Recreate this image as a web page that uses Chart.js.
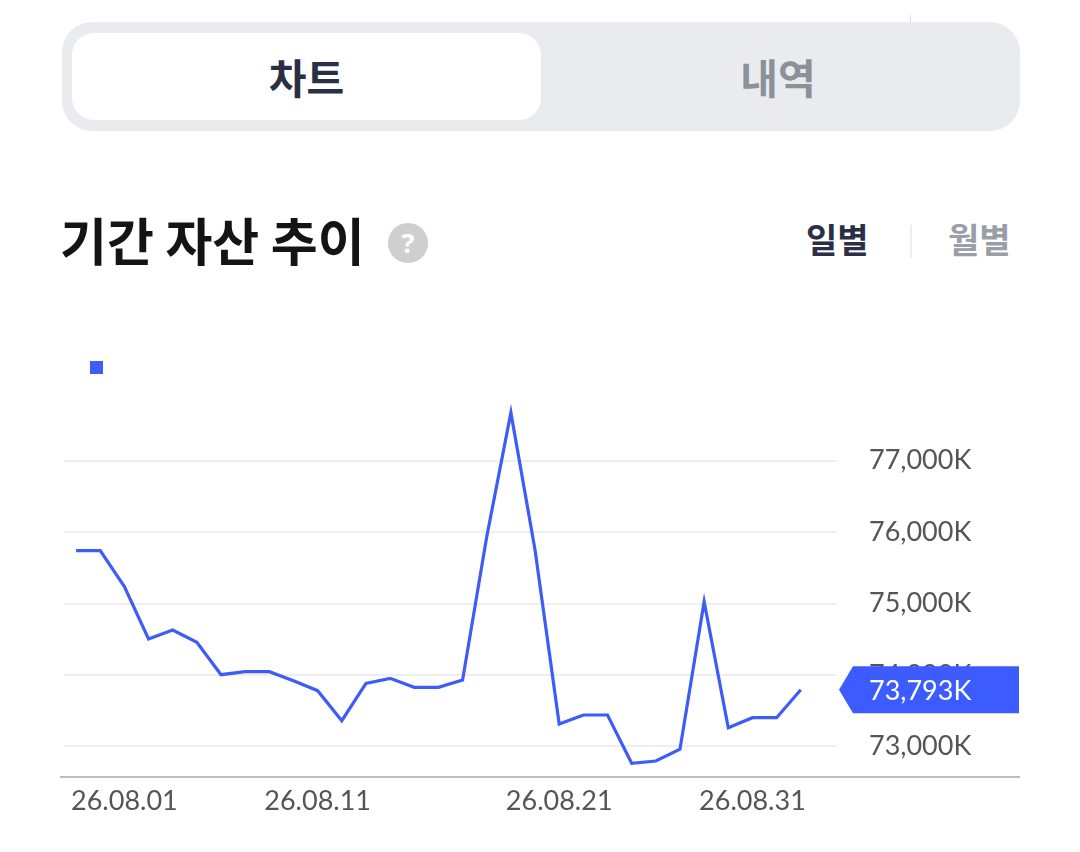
<!DOCTYPE html>
<html>
<head>
<meta charset="utf-8">
<script src="https://cdn.jsdelivr.net/npm/chart.js@4"></script>
<style>
  html, body { margin: 0; padding: 0; background: #fff; }
  body { width: 1080px; height: 852px; position: relative; overflow: hidden;
         font-family: "Noto Sans CJK KR", "Noto Sans", sans-serif; }
  .abs { position: absolute; }
  .tabs { left: 62px; top: 22px; width: 958px; height: 109px; background: #e9ebef; border-radius: 30px; }
  .pill { left: 72px; top: 33px; width: 469px; height: 87px; background: #fff; border-radius: 22px; }
  .tab { top: 33px; height: 87px; line-height: 87px; text-align: center; font-weight: 700; font-size: 41px; }
  .title { left: 60px; top: 207px; font-size: 51px; font-weight: 700; color: #141414; line-height: 64px; }
  .help { left: 388px; top: 223px; width: 40px; height: 40px; border-radius: 50%; background: #cfcfcf;
          color: #fff; font: 700 27px "Noto Sans", sans-serif; text-align: center; line-height: 40px; }
  .period { top: 214px; font-size: 34px; font-weight: 700; line-height: 50px; }
  .sep { width: 2px; background: #eeeeee; }
  #wrap { left: 0; top: 322px; width: 1080px; height: 530px; }
</style>
</head>
<body>
<div class="abs" style="left:910px;top:15px;width:1px;height:36px;background:#dcdcdc"></div>
<div class="abs tabs"></div>
<div class="abs pill"></div>
<div class="abs tab" style="left:72px;width:469px;color:#2b2f45">차트</div>
<div class="abs tab" style="left:541px;width:474px;color:#8b9099">내역</div>

<div class="abs title">기간 자산 추이</div>
<div class="abs help">?</div>
<div class="abs period" style="left:806px;color:#2b2f45">일별</div>
<div class="abs sep" style="left:910px;top:225px;height:33px"></div>
<div class="abs period" style="left:948px;color:#9a9ea6">월별</div>

<div class="abs" id="wrap"><canvas id="js-canvas-assets"></canvas></div>

<script>
// 32 slots on the x axis, the last one is empty
const tickLabels = [
  '', '', '26.08.01', '', '', '', '', '', '', '', '26.08.11', '', '', '', '', '', '',
  '', '', '', '26.08.21', '', '', '', '', '', '', '', '26.08.31', '', '', ''
];

// daily assets, in thousand won (K)
const assetValues = [
  75740, 75740, 75237, 74505, 74630, 74458, 74005, 74047, 74047, 73921,
  73781, 73361, 73884, 73954, 73828, 73828, 73931, 75936, 77672, 75750,
  73315, 73441, 73441, 72765, 72797, 72961, 75027, 73263, 73403, 73403,
  73793
];

const yTicks = [73000, 74000, 75000, 76000, 77000];

const lineColor = '#3e5cf6';
const tagColor = '#3d5cff';
const fontFamily = 'Lato, "Noto Sans", sans-serif';

function formatK (v) {
  return v.toLocaleString('en-US') + 'K';
}

// price tag at the last value + long bottom axis line
const extras = {
  id: 'extras',
  afterDraw (chart) {
    const ctx = chart.ctx;
    const y = chart.scales.y;
    const area = chart.chartArea;
    const last = assetValues[assetValues.length - 1];
    const py = y.getPixelForValue(last);
    const h = 47;

    ctx.save();
    ctx.strokeStyle = '#bdbdbd';
    ctx.lineWidth = 2;
    ctx.beginPath();
    ctx.moveTo(60, area.bottom);
    ctx.lineTo(1020, area.bottom);
    ctx.stroke();

    ctx.fillStyle = tagColor;
    ctx.beginPath();
    ctx.moveTo(area.right + 2, py);
    ctx.lineTo(area.right + 16, py - h / 2);
    ctx.lineTo(1019, py - h / 2);
    ctx.lineTo(1019, py + h / 2);
    ctx.lineTo(area.right + 16, py + h / 2);
    ctx.closePath();
    ctx.fill();

    ctx.fillStyle = '#ffffff';
    ctx.font = '27px ' + fontFamily;
    ctx.textBaseline = 'middle';
    ctx.textAlign = 'left';
    ctx.fillText(formatK(last), area.right + 32, py + 1);
    ctx.restore();
  }
};

const ctx = document.getElementById('js-canvas-assets');
new Chart(ctx, {
  type: 'line',
  data: {
    labels: tickLabels,
    datasets: [
      {
        label: '',
        data: assetValues,
        borderColor: lineColor,
        backgroundColor: lineColor,
        borderWidth: 3.2,
        pointRadius: 0,
        tension: 0,
        fill: false
      }
    ]
  },
  options: {
    responsive: true,
    maintainAspectRatio: false,
    animation: false,
    layout: { padding: { left: 64, top: 13, right: 0, bottom: 0 } },
    plugins: {
      tooltip: { enabled: false },
      legend: {
        display: true,
        align: 'start',
        labels: {
          boxWidth: 13,
          boxHeight: 13,
          padding: 26,
          generateLabels: () => [{
            text: '',
            fillStyle: lineColor,
            strokeStyle: lineColor,
            lineWidth: 0,
            hidden: false,
            datasetIndex: 0
          }]
        }
      }
    },
    scales: {
      x: {
        offset: true,
        grid: { display: false, drawTicks: false },
        border: { display: false },
        ticks: {
          autoSkip: false,
          maxRotation: 0,
          padding: 8,
          color: '#555555',
          font: { family: fontFamily, size: 27 }
        },
        afterFit: (scale) => { scale.height = 75; }
      },
      y: {
        position: 'right',
        min: 72573,
        max: 78073,
        grid: { color: '#efefef', lineWidth: 2, drawTicks: false },
        border: { display: false },
        afterBuildTicks: (scale) => { scale.ticks = yTicks.map(v => ({ value: v })); },
        ticks: {
          padding: 32,
          color: '#555555',
          font: { family: fontFamily, size: 27 },
          callback: (v) => formatK(v)
        },
        afterFit: (scale) => { scale.width = 243; }
      }
    }
  },
  plugins: [extras]
});
</script>
</body>
</html>
